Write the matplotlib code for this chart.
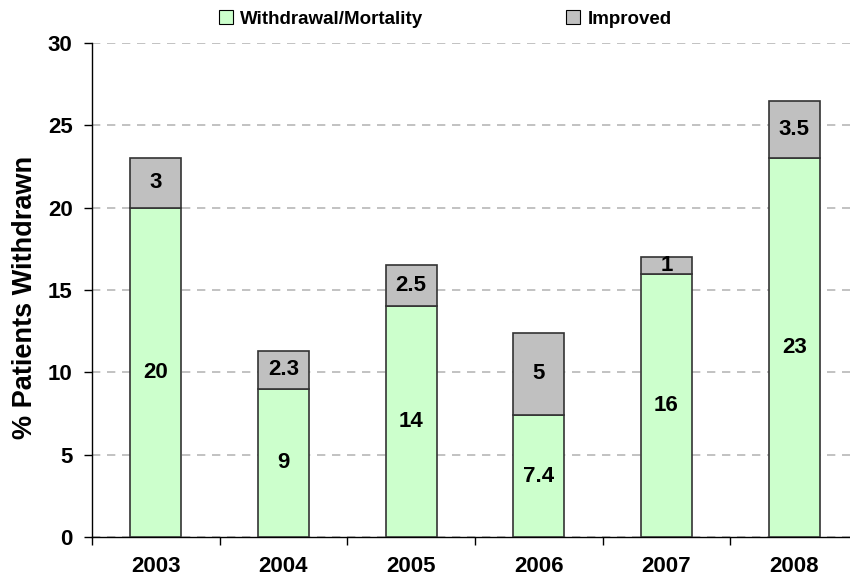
import matplotlib
matplotlib.use("Agg")
import matplotlib.pyplot as plt
from matplotlib.patches import Patch
import numpy as np

years = ["2003", "2004", "2005", "2006", "2007", "2008"]
withdrawal = [20, 9, 14, 7.4, 16, 23]
improved = [3, 2.3, 2.5, 5, 1, 3.5]
withdrawal_labels = ["20", "9", "14", "7.4", "16", "23"]
improved_labels = ["3", "2.3", "2.5", "5", "1", "3.5"]

plt.rcParams['font.family'] = ['Liberation Sans', 'DejaVu Sans']
plt.rcParams['font.weight'] = 'bold'

fig = plt.figure(figsize=(8.5, 5.81), dpi=100)
ax = fig.add_axes([92/850, 44/581, 766/850, 494/581])

x = np.arange(len(years))
green = "#ccffcc"
grey = "#c0c0c0"
edge = "#333333"
ax.bar(x, withdrawal, width=0.4, color=green, edgecolor=edge, linewidth=1.2, zorder=3)
ax.bar(x, improved, width=0.4, bottom=withdrawal, color=grey, edgecolor=edge, linewidth=1.2, zorder=3)

for i in range(len(years)):
    ax.text(x[i], withdrawal[i] / 2, withdrawal_labels[i], ha='center', va='center',
            fontsize=16, fontweight='bold', zorder=4)
    ax.text(x[i], withdrawal[i] + improved[i] / 2, improved_labels[i], ha='center', va='center',
            fontsize=16, fontweight='bold', zorder=4)

ax.set_xlim(-0.5, len(years) - 0.5)
ax.set_ylim(0, 30)
ax.set_yticks(np.arange(0, 31, 5))
ax.tick_params(axis='y', labelsize=16, length=6, width=1, direction='out', pad=8)
ax.set_xticks(x)
ax.set_xticklabels(years, fontsize=16, fontweight='bold')
ax.set_xticks(np.arange(-0.5, len(years), 1), minor=True)
ax.tick_params(axis='x', which='major', length=0, pad=14)
ax.tick_params(axis='x', which='minor', length=6, width=1, direction='out')
for lab in ax.get_yticklabels():
    lab.set_fontweight('bold')

ax.yaxis.grid(True, linestyle=(0, (5, 4)), color='#b8b8b8', linewidth=1.2, zorder=0)
ax.set_axisbelow(True)
for s in ['top', 'right']:
    ax.spines[s].set_visible(False)
ax.spines['left'].set_linewidth(1)
ax.spines['bottom'].set_linewidth(1)

ax.set_ylabel("% Patients Withdrawn", fontsize=19.5, fontweight='bold')
ax.yaxis.set_label_coords(-0.071, 0.484)

handles = [Patch(facecolor=green, edgecolor='black', linewidth=0.8),
           Patch(facecolor=grey, edgecolor='black', linewidth=0.8)]
fig.legend(handles, ["Withdrawal/Mortality", "Improved"], ncol=2, loc='center',
           bbox_to_anchor=(445/850, 1 - 19/581), frameon=False,
           prop={'size': 13.5, 'weight': 'bold'}, handlelength=0.75, handleheight=0.75,
           handletextpad=0.4, columnspacing=7.6)

fig.savefig("out.png", dpi=100)
